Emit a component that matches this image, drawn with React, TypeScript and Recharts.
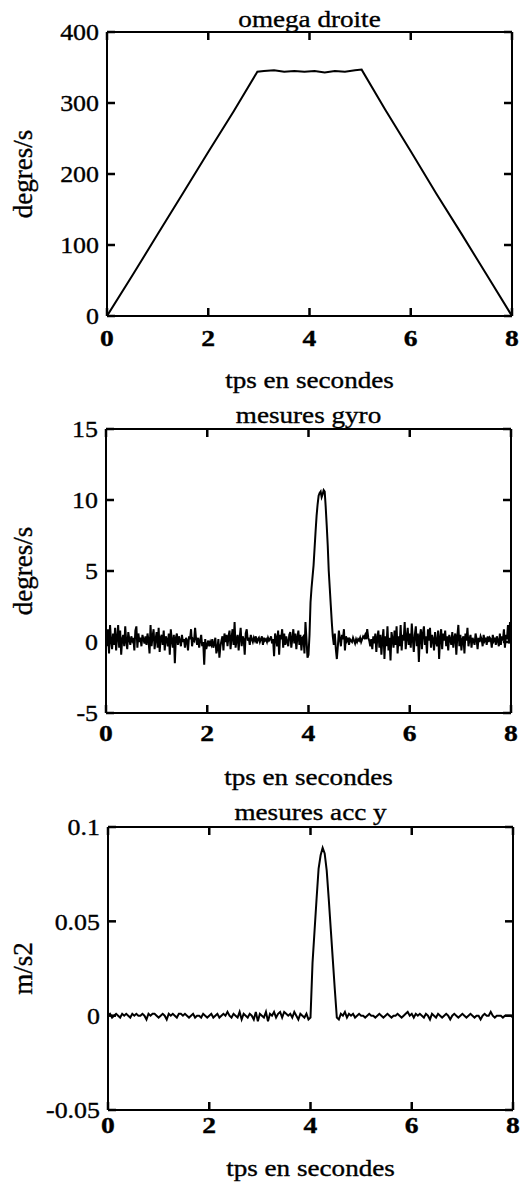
import React from "react";
import { LineChart, Line, XAxis, YAxis } from "recharts";

// ---------- data ----------
const omegaTimes = [0, 0.5, 1, 1.5, 2, 2.5, 2.97, 3.1, 3.3, 3.5, 3.7, 3.9, 4.1, 4.3, 4.5, 4.7, 4.9, 5.03, 5.5, 6, 6.5, 7, 7.5, 8];
const omegaValues = [0, 57, 115, 173, 231, 288, 344, 345, 346, 344, 345, 344, 345, 343, 345, 344, 346, 347, 290, 232, 173, 116, 58, 0];

const GYRO_STEP = 0.02; // seconds between gyro samples
const ACC_STEP = 0.04; // seconds between accelerometer samples

const gyroValues = [
  0.4, -0.3, 0.9, -0.8, 1.2, 0.1, -0.5, 0.6, -0.2, 1.0,
  -0.6, 0.3, 1.2, -0.4, 0.8, -0.9, 0.2, 0.5, -0.3, 1.1,
  0.0, -0.5, 0.7, 0.2, -0.2, 0.4, 0.1, 0.3, -0.6, 0.8,
  1.1, -0.4, 0.6, 0.0, 0.3, -0.3, 0.5, 0.2, -0.1, 0.4,
  -0.2, 0.6, 0.1, -0.8, 1.2, -0.3, 0.4, 0.9, -0.5, 0.2,
  0.7, -0.4, 1.0, -0.7, 0.3, 0.5, -0.2, 0.8, -0.6, 0.4,
  0.2, -0.3, 0.6, -0.9, 0.9, 0.1, -0.4, 0.5, -1.5, 0.3,
  0.6, -0.2, 0.4, 0.1, -0.3, 0.5, 0.0, 0.2, -0.4, 0.3,
  0.1, -0.6, 0.4, 0.2, 0.9, -0.3, 0.2, 0.1, 1.0, 0.2,
  -0.2, 0.3, -0.4, 0.1, 0.5, -0.3, 0.0, -1.6, 0.2, -0.5,
  -0.2, 0.1, -0.3, 0.0, -0.2, 0.2, -0.4, -0.1, 0.3, -0.8,
  -0.5, 0.2, -1.1, -0.3, 0.1, 0.4, -0.6, 0.6, 0.0, 0.5,
  -0.3, 0.4, 0.8, -0.5, 0.3, 0.9, -0.2, 1.4, -0.4, 0.2,
  0.5, -0.6, 0.3, 1.0, -0.3, 0.4, 0.2, -0.9, 0.6, 0.9,
  0.1, 0.3, -0.2, 0.5, 0.2, 0.0, 0.3, 0.1, 0.4, -0.1,
  0.2, 0.3, 0.0, 0.2, 0.4, -0.2, 0.3, 0.1, 0.2, 0.0,
  0.3, 0.1, 0.2, 0.4, -0.1, 0.2, -1.0, 0.6, 0.3, -0.3,
  0.8, -0.9, 0.5, 0.2, 0.9, -0.4, 0.6, -0.2, 0.4, 0.0,
  -0.3, 0.5, 0.7, -0.4, 0.2, 0.9, -0.1, 0.6, -0.5, 0.3,
  0.8, -0.2, 0.5, -0.6, 0.3, 0.4, -0.8, 1.4, 0.2, -1.1,
  -0.9, 0.5, 2.8, 3.8, 4.6, 5.4, 6.6, 7.8, 8.9, 9.7,
  10.3, 10.5, 10.6, 10.2, 10.4, 10.7, 10.6, 9.5, 8.2, 6.8,
  5.0, 3.8, 2.6, 1.4, 0.4, -0.2, 0.6, -0.5, -1.2, -0.3,
  0.8, 0.2, -0.3, 0.5, 0.2, 0.9, -0.6, 0.4, 0.1, 0.3,
  -0.2, 0.2, 0.1, 0.0, 0.3, 0.1, -0.1, 0.2, 0.0, 0.2,
  0.1, 0.3, 0.0, 0.2, 0.4, 0.3, 0.5, 0.2, 0.9, 0.3,
  0.1, -0.3, 0.2, -0.5, 0.4, -0.1, 0.6, -0.7, 0.3, 0.8,
  -0.4, 0.5, -0.9, 0.2, 0.9, -1.2, 0.4, -0.3, 1.1, -0.6,
  0.3, -1.3, 0.7, 0.2, -0.4, 0.8, -0.2, 1.1, -0.8, 0.4,
  -0.3, 1.2, -0.6, 0.5, 0.1, 1.4, -0.5, 0.3, 1.0, -0.2,
  0.6, -0.4, 1.3, 0.2, -0.7, 0.5, 1.1, -0.3, 0.6, -1.4,
  0.4, 0.9, -0.5, 0.6, 1.1, -0.2, 0.4, -0.8, 0.9, 0.1,
  1.0, -0.4, 0.5, 0.2, -0.6, 0.7, 0.0, -0.3, 0.8, -1.2,
  0.3, 0.9, -0.5, 0.6, 0.1, 0.8, -0.3, 0.4, -0.6, 0.5,
  0.2, -0.2, 0.7, -0.4, 0.3, 0.6, -0.9, 0.4, 1.2, -0.3,
  0.5, -0.6, 0.2, 0.4, -0.8, 0.6, 0.1, 1.0, -0.3, 0.2,
  0.5, -0.4, 0.3, 0.1, -0.2, 0.6, 0.2, -0.5, 0.3, 0.0,
  0.4, 0.2, -0.3, 0.5, 0.1, 0.3, -0.2, 0.4, 0.0, 0.3,
  0.2, -0.4, 0.5, 0.1, 0.3, -0.2, 0.4, 0.1, -0.3, 0.6,
  -0.2, 0.4, 0.1, 0.9, -0.4, 0.5, 0.2, 1.2, -0.1, 1.4,
  0.3,
];

const accValues = [
  0.000, 0.001, -0.001, 0.000, 0.001, 0.000, -0.001, 0.001, 0.000, 0.001,
  0.000, -0.001, 0.001, 0.000, 0.001, 0.000, 0.000, 0.001, 0.000, -0.002,
  0.001, 0.000, 0.001, 0.001, 0.000, -0.001, 0.000, 0.001, 0.000, -0.002,
  0.001, 0.000, 0.001, 0.000, -0.001, 0.001, 0.001, 0.000, 0.001, 0.000,
  -0.001, 0.000, 0.001, -0.001, 0.000, 0.000, -0.001, 0.001, 0.000, -0.001,
  0.000, 0.001, -0.001, 0.000, 0.001, -0.001, 0.000, 0.001, 0.000, 0.002,
  0.000, -0.001, 0.001, 0.000, -0.001, 0.002, -0.002, 0.001, 0.000, -0.001,
  0.001, 0.000, -0.002, 0.002, -0.003, 0.001, 0.000, -0.001, 0.002, -0.003,
  0.001, 0.000, 0.002, -0.001, 0.001, 0.002, -0.001, 0.002, 0.001, 0.000,
  0.001, -0.001, 0.002, 0.000, -0.002, 0.001, 0.000, -0.001, 0.001, -0.002,
  -0.001, 0.028, 0.045, 0.062, 0.078, 0.085, 0.089, 0.086, 0.077, 0.062,
  0.046, 0.030, 0.014, -0.001, -0.002,
  0.001, 0.000, 0.002, -0.001, 0.001, 0.000, 0.001, -0.001, 0.000, 0.001,
  0.000, 0.000, -0.001, 0.000, 0.001, 0.000, 0.000, -0.001, 0.000, 0.001,
  0.000, -0.001, 0.000, 0.001, 0.000, -0.001, 0.000, 0.000, 0.001, 0.000,
  -0.001, 0.000, 0.001, 0.002, 0.000, 0.001, -0.001, 0.001, 0.000, 0.001,
  0.000, -0.001, 0.001, 0.000, -0.002, 0.001, 0.000, -0.001, 0.001, 0.000,
  -0.001, 0.000, 0.001, 0.000, -0.002, 0.000, 0.001, 0.000, -0.001, 0.000,
  0.001, 0.000, -0.001, 0.000, 0.001, 0.000, -0.001, 0.000, 0.000, -0.002,
  0.000, 0.001, 0.000, 0.000, 0.002, 0.000, -0.001, 0.000, 0.000, 0.000,
  -0.001, 0.000, 0.000, 0.000, 0.000, -0.001,
];

const xTicks = [0, 2, 4, 6, 8];
const omegaTicks = [0, 100, 200, 300, 400];
const gyroTicks = [-5, 0, 5, 10, 15];
const accTicks = [-0.05, 0, 0.05, 0.1];

const xTitle = "tps en secondes";

// ---------- tables ----------
const omegaData = omegaTimes.map((t, i) => ({ t, v: omegaValues[i] }));
const gyroData = gyroValues.map((v, i) => ({ t: Math.round(i * GYRO_STEP * 100) / 100, v }));
const accData = accValues.map((v, i) => ({ t: Math.round(i * ACC_STEP * 100) / 100, v }));

// ---------- styling ----------
const FONT = "'Liberation Serif', 'Times New Roman', serif";
const TICK_LEN = 8;
const TICK_W = 2.5;
const AX = { stroke: "#000", strokeWidth: 2 };

function StretchText({ x, y, anchor, size, weight, sx, rotate, children }: any) {
  const tr = rotate
    ? `translate(${x},${y}) rotate(-90)`
    : `translate(${x},${y}) scale(${sx},1)`;
  return (
    <text
      transform={tr}
      x={0}
      y={0}
      textAnchor={anchor}
      dominantBaseline="central"
      fontFamily={FONT}
      fontSize={size}
      fontWeight={weight}
      fill="#000"
      stroke="#000"
      strokeWidth={0.35}
    >
      {children}
    </text>
  );
}

type PanelProps = {
  top: number;
  height: number;
  plotTop: number;
  plotBottom: number;
  left: number;
  right: number;
  data: { t: number; v: number }[];
  yDomain: [number, number];
  yTicks: number[];
  title: string;
  yLabel: string;
  titleGap: number;
  xTickGap: number;
  xTitleGap: number;
};

function Panel(p: PanelProps) {
  const W = 520;
  const yGap = 8;
  return (
    <div style={{ position: "absolute", left: 0, top: p.top, width: W, height: p.height }}>
      <LineChart width={W} height={p.height} data={p.data} margin={{ top: 0, right: 0, bottom: 0, left: 0 }}>
        {/* top frame with inward ticks and the title */}
        <XAxis
          xAxisId="top"
          orientation="top"
          type="number"
          dataKey="t"
          domain={[0, 8]}
          ticks={xTicks}
          allowDataOverflow
          height={p.plotTop}
          tickSize={0}
          tickMargin={0}
          tickLine={false}
          axisLine={AX}
          tick={(tp: any) => (
            <line x1={tp.x} x2={tp.x} y1={tp.y} y2={tp.y + TICK_LEN} stroke="#000" strokeWidth={TICK_W} />
          )}
          label={{
            content: (lp: any) => {
              const vb = lp.viewBox;
              return (
                <StretchText x={vb.x + vb.width / 2} y={vb.y + vb.height - p.titleGap} anchor="middle" size={23} sx={1.18} weight="normal">
                  {p.title}
                </StretchText>
              );
            },
          }}
        />
        {/* bottom axis */}
        <XAxis
          type="number"
          dataKey="t"
          domain={[0, 8]}
          ticks={xTicks}
          allowDataOverflow
          height={p.height - p.plotBottom}
          tickSize={0}
          tickMargin={p.xTickGap}
          tickLine={false}
          axisLine={AX}
          tick={(tp: any) => (
            <g>
              <line x1={tp.x} x2={tp.x} y1={tp.y - p.xTickGap} y2={tp.y - p.xTickGap - TICK_LEN} stroke="#000" strokeWidth={TICK_W} />
              <StretchText x={tp.x} y={tp.y} anchor="middle" size={24} sx={1.15} weight="bold">
                {String(tp.payload.value)}
              </StretchText>
            </g>
          )}
          label={{
            content: (lp: any) => {
              const vb = lp.viewBox;
              return (
                <StretchText x={vb.x + vb.width / 2} y={vb.y + p.xTitleGap} anchor="middle" size={23} sx={1.18} weight="normal">
                  {xTitle}
                </StretchText>
              );
            },
          }}
        />
        {/* left axis */}
        <YAxis
          type="number"
          domain={p.yDomain}
          ticks={p.yTicks}
          allowDataOverflow
          width={p.left}
          tickSize={0}
          tickMargin={yGap}
          tickLine={false}
          axisLine={AX}
          tick={(tp: any) => (
            <g>
              <line x1={tp.x + yGap} x2={tp.x + yGap + TICK_LEN} y1={tp.y} y2={tp.y} stroke="#000" strokeWidth={TICK_W} />
              <StretchText x={tp.x} y={tp.y} anchor="end" size={24} sx={1.08} weight="normal">
                {String(tp.payload.value)}
              </StretchText>
            </g>
          )}
          label={{
            content: (lp: any) => {
              const vb = lp.viewBox;
              return (
                <StretchText x={vb.x + 23} y={vb.y + vb.height / 2} anchor="middle" size={27} weight="normal" rotate>
                  {p.yLabel}
                </StretchText>
              );
            },
          }}
        />
        {/* right frame with inward ticks */}
        <YAxis
          yAxisId="right"
          orientation="right"
          type="number"
          domain={p.yDomain}
          ticks={p.yTicks}
          allowDataOverflow
          width={W - p.right}
          tickSize={0}
          tickMargin={0}
          tickLine={false}
          axisLine={AX}
          tick={(tp: any) => (
            <line x1={tp.x} x2={tp.x - TICK_LEN} y1={tp.y} y2={tp.y} stroke="#000" strokeWidth={TICK_W} />
          )}
        />
        <Line
          type="linear"
          dataKey="v"
          stroke="#000"
          strokeWidth={2}
          dot={false}
          isAnimationActive={false}
        />
      </LineChart>
    </div>
  );
}

export default function App() {
  return (
    <div style={{ position: "absolute", left: 0, top: 0, width: 520, height: 1188, background: "#fff", overflow: "hidden" }}>
      <Panel
        top={0}
        height={395}
        plotTop={32}
        plotBottom={316}
        left={107}
        right={512}
        data={omegaData}
        yDomain={[0, 400]}
        yTicks={omegaTicks}
        title="omega droite"
        yLabel="degres/s"
        titleGap={13}
        xTickGap={22}
        xTitleGap={64}
      />
      <Panel
        top={395}
        height={400}
        plotTop={34}
        plotBottom={318}
        left={106}
        right={511}
        data={gyroData}
        yDomain={[-5, 15]}
        yTicks={gyroTicks}
        title="mesures gyro"
        yLabel="degres/s"
        titleGap={14}
        xTickGap={20}
        xTitleGap={64}
      />
      <Panel
        top={795}
        height={393}
        plotTop={32}
        plotBottom={315}
        left={108}
        right={513}
        data={accData}
        yDomain={[-0.05, 0.1]}
        yTicks={accTicks}
        title="mesures acc y"
        yLabel="m/s2"
        titleGap={15}
        xTickGap={15}
        xTitleGap={58}
      />
    </div>
  );
}
